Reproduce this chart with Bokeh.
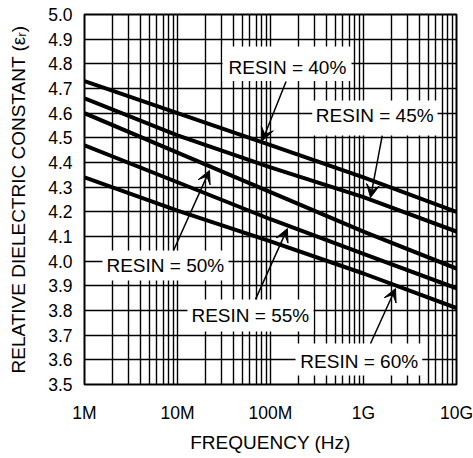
from bokeh.plotting import figure
from bokeh.models import Range1d, FixedTicker, PrintfTickFormatter, Arrow, VeeHead, ColumnDataSource
from bokeh.core.properties import value
from bokeh.embed import file_html
from bokeh.resources import INLINE

# ---- data ----
freq = [1e6, 1e7, 1e8, 1e9, 1e10]
resin_40 = [4.73, 4.60, 4.47, 4.34, 4.20]
resin_45 = [4.66, 4.51, 4.38, 4.26, 4.12]
resin_50 = [4.60, 4.44, 4.28, 4.12, 3.97]
resin_55 = [4.47, 4.32, 4.17, 4.03, 3.89]
resin_60 = [4.34, 4.205, 4.08, 3.95, 3.81]
series = [resin_40, resin_45, resin_50, resin_55, resin_60]

x_tick_values = [1000000, 10000000, 100000000, 1000000000, 10000000000]
x_tick_labels = ["1M", "10M", "100M", "1G", "10G"]
y_tick_values = [round(3.5 + 0.1 * i, 1) for i in range(16)]

# annotation labels (text, x, y) in data units
label_texts = ["RESIN = 40%", "RESIN = 45%", "RESIN = 50%", "RESIN = 55%", "RESIN = 60%"]
label_x = [1.52e8, 1.32e9, 7.4e6, 6.07e7, 9.0e8]
label_y = [4.784, 4.5905, 3.982, 3.7785, 3.593]
# white label boxes (left, right, top, bottom)
box_left = [3.05e7, 2.81e8, 1.56e6, 1.28e7, 1.86e8]
box_right = [7.43e8, 6.25e9, 3.53e7, 2.9e8, 4.28e9]
box_top = [4.870, 4.651, 4.043, 3.845, 3.666]
box_bottom = [4.730, 4.509, 3.922, 3.715, 3.536]
# arrows (start -> end)
arrow_x0 = [1.47e8, 1.59e9, 9.06e6, 6.9e7, 1.19e9]
arrow_y0 = [4.728, 4.509, 4.043, 3.845, 3.666]
arrow_x1 = [8.2e7, 1.19e9, 2.21e7, 1.52e8, 2.21e9]
arrow_y1 = [4.489, 4.258, 4.368, 4.132, 3.889]

FONT = "Liberation Sans"

p = figure(width=473, height=458, x_axis_type="log",
           x_range=Range1d(1e6, 1e10), y_range=Range1d(3.5, 5.0),
           output_backend="svg", toolbar_location=None,
           min_border_left=84, min_border_right=17, min_border_top=14, min_border_bottom=74,
           background_fill_color="white", border_fill_color="white")

p.outline_line_color = "black"
p.outline_line_width = 2

# axes
p.xaxis.ticker = FixedTicker(ticks=x_tick_values)
p.xaxis.major_label_overrides = dict(zip(x_tick_values, x_tick_labels))
p.yaxis.ticker = FixedTicker(ticks=y_tick_values)
p.yaxis.formatter = PrintfTickFormatter(format="%.1f")
for ax in (p.xaxis, p.yaxis):
    ax.axis_line_color = None
    ax.major_tick_line_color = None
    ax.minor_tick_line_color = None
    ax.major_tick_in = 0
    ax.major_tick_out = 0
    ax.minor_tick_in = 0
    ax.minor_tick_out = 0
    ax.major_label_text_font = FONT
    ax.major_label_text_font_size = "17.5px"
    ax.major_label_text_color = "black"
    ax.axis_label_text_font = FONT
    ax.axis_label_text_font_size = "19px"
    ax.axis_label_text_font_style = "normal"
    ax.axis_label_text_color = "black"

p.xaxis.axis_label = "FREQUENCY (Hz)"
p.yaxis.axis_label = "RELATIVE DIELECTRIC CONSTANT (εᵣ)"
p.xaxis.major_label_standoff = 18
p.xaxis.axis_label_standoff = 6
p.yaxis.major_label_standoff = 12
p.yaxis.axis_label_standoff = 16

# grid
grid_ticks = [m * 10 ** e for e in range(6, 10) for m in range(1, 10)] + [10 ** 10]
p.xgrid.ticker = FixedTicker(ticks=grid_ticks)
for g in (p.xgrid, p.ygrid):
    g.grid_line_color = "black"
    g.grid_line_width = 1.4
    g.grid_line_alpha = 1.0

# white label boxes
p.quad(left=box_left, right=box_right, top=box_top, bottom=box_bottom,
       fill_color="white", line_color=None)

# curves
for s in series:
    p.line(freq, s, line_color="black", line_width=4)

# arrows
for x0, y0, x1, y1 in zip(arrow_x0, arrow_y0, arrow_x1, arrow_y1):
    p.add_layout(Arrow(end=VeeHead(size=13, fill_color="black", line_color="black", line_width=1),
                       x_start=x0, y_start=y0, x_end=x1, y_end=y1,
                       line_color="black", line_width=1.5))

# labels
src = ColumnDataSource(dict(x=label_x, y=label_y, t=label_texts))
p.text(x="x", y="y", text="t", source=src, text_font=value(FONT), text_font_size="19px",
       text_align="center", text_baseline="middle", text_color="black")

open("out.html", "w").write(file_html(p, INLINE))
